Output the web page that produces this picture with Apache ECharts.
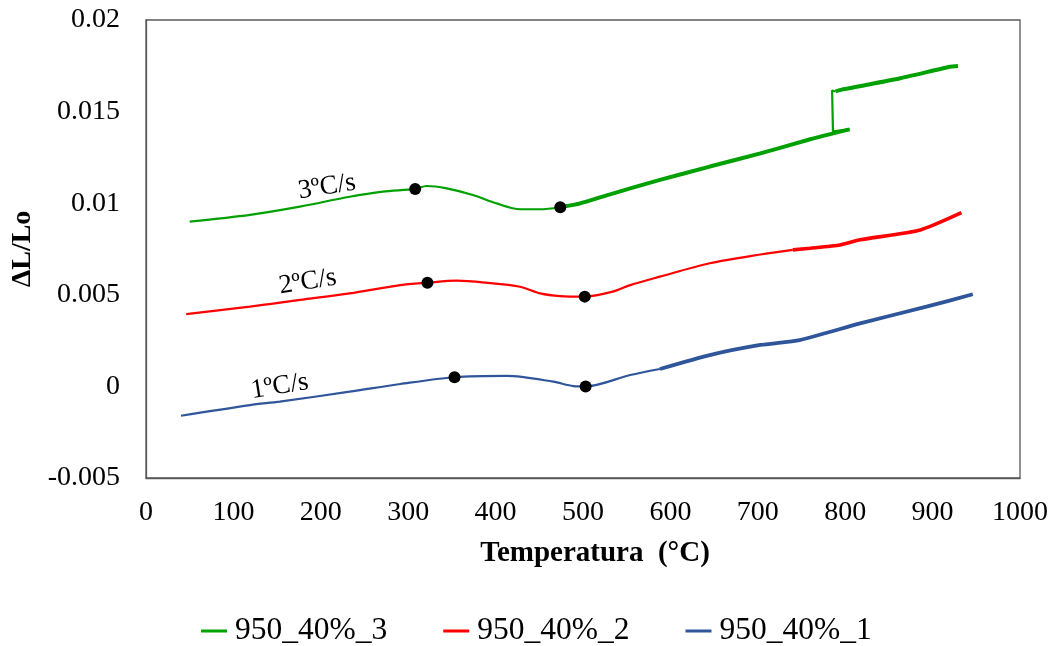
<!DOCTYPE html>
<html>
<head>
<meta charset="utf-8">
<script src="https://cdn.jsdelivr.net/npm/echarts@6/dist/echarts.min.js"></script>
<style>
html,body{margin:0;padding:0;background:#fff;}
#chart{width:1057px;height:646px;}
</style>
</head>
<body>
<div id="chart"></div>
<script>
// ---- data (temperature °C, ΔL/Lo) ----
const seriesNames = ['950_40%_3', '950_40%_2', '950_40%_1'];

const green1 = [[50,0.00899],[119,0.00936],[176,0.00981],[233,0.01035],[271,0.01063],[308,0.01078],[321,0.01094],[344,0.01081],[374,0.01045],[401,0.00999],[428,0.00967],[451,0.00967],[474,0.00978]];
const green2 = [[474,0.00978],[497,0.00999],[531,0.01048],[554,0.01081],[588,0.01127],[645,0.01200],[703,0.01272],[760,0.01349],[805,0.01403]];
const green3 = [[805,0.01403],[786,0.01392],[785,0.01615],[789,0.01610]];
const green4 = [[789,0.01610],[796,0.01620],[863,0.01682],[920,0.01745],[929,0.01749]];

const red1 = [[46,0.00395],[119,0.00435],[176,0.00472],[233,0.00508],[291,0.00553],[322,0.00566],[355,0.00577],[389,0.00566],[428,0.00544],[451,0.00508],[474,0.00493],[502,0.00490],[534,0.00517],[554,0.00553],[588,0.00599],[645,0.00672],[703,0.00720],[740,0.00745]];
const red2 = [[740,0.00745],[760,0.00754],[794,0.00772],[817,0.00800],[886,0.00854],[933,0.00948]];

const blue1 = [[40,-0.00160],[119,-0.00102],[153,-0.00083],[233,-0.00029],[291,0.00013],[353,0.00050],[413,0.00057],[466,0.00026],[489,0.00002],[503,0.00000],[554,0.00062],[588,0.00095]];
const blue2 = [[588,0.00095],[645,0.00171],[703,0.00226],[748,0.00253],[817,0.00344],[893,0.00435],[946,0.00503]];

const markers = [[308,0.01078],[474,0.00978],[322,0.00566],[502,0.00490],[353,0.00050],[503,0.00000]];
const annotations = [[207,0.01089,'3ºC/s'],[185,0.00570,'2ºC/s'],[153,0.00000,'1ºC/s']];

const xTicks = [0,100,200,300,400,500,600,700,800,900,1000];
const yTickLabels = ['-0.005','0','0.005','0.01','0.015','0.02'];

const colors = {g:'#00A000', r:'#FF0000', b:'#2F559A'};
const FONT = 'Liberation Serif';

function line(name, data, color, width, smooth){
  return {name:name, type:'line', data:data, symbol:'none', smooth:smooth,
    lineStyle:{color:color, width:width}, itemStyle:{color:color}, z:2, silent:true};
}

const chart = echarts.init(document.getElementById('chart'));
chart.setOption({
  animation:false,
  backgroundColor:'#fff',
  grid:{left:146, top:20, right:37, bottom:168, show:true, borderColor:'#595959', borderWidth:1.3, containLabel:false},
  xAxis:{type:'value', min:0, max:1000, interval:100,
    name:'Temperatura  (°C)', nameLocation:'middle', nameGap:61,
    nameTextStyle:{fontFamily:FONT, fontSize:29, fontWeight:'bold', color:'#000', padding:[0,0,0,24]},
    axisLine:{show:true, onZero:false, lineStyle:{color:'#595959', width:1.3}}, axisTick:{show:false}, splitLine:{show:false},
    axisLabel:{fontFamily:FONT, fontSize:28, color:'#000', margin:21,
      formatter:v=>String(xTicks[Math.round(v/100)])}},
  yAxis:{type:'value', min:-0.005, max:0.02, interval:0.005,
    name:'ΔL/Lo', nameLocation:'middle', nameGap:109, nameRotate:90,
    nameTextStyle:{fontFamily:FONT, fontSize:28, fontWeight:'bold', color:'#000'},
    axisLine:{show:true, onZero:false, lineStyle:{color:'#595959', width:1.3}}, axisTick:{show:false}, splitLine:{show:false},
    axisLabel:{fontFamily:FONT, fontSize:28, color:'#000', margin:26,
      formatter:v=>yTickLabels[Math.round((v+0.005)/0.005)]}},
  legend:{data:seriesNames.map(n=>({name:n, icon:'rect'})), left:196, top:610, itemGap:56, itemWidth:26, itemHeight:3,
    textStyle:{fontFamily:FONT, fontSize:31.5, color:'#000', padding:[0,0,0,3]}},
  series:[
    line(seriesNames[0], green1, colors.g, 2.2, 0.3),
    line(seriesNames[0], green2, colors.g, 4, 0.2),
    line(seriesNames[0], green3, colors.g, 2.2, false),
    line(seriesNames[0], green4, colors.g, 4, 0.2),
    line(seriesNames[1], red1, colors.r, 2.2, 0.3),
    line(seriesNames[1], red2, colors.r, 3.6, 0.2),
    line(seriesNames[2], blue1, colors.b, 2.2, 0.3),
    line(seriesNames[2], blue2, colors.b, 3.8, 0.2),
    {type:'scatter', data:markers, symbolSize:12, itemStyle:{color:'#000', opacity:1}, z:5, silent:true},
    {type:'scatter', data:annotations, symbolSize:0, z:4, silent:true, itemStyle:{opacity:1},
      label:{show:true, position:'inside', formatter:p=>p.data[2], rotate:9,
        fontFamily:FONT, fontSize:27, color:'#000'}}
  ]
});
</script>
</body>
</html>
